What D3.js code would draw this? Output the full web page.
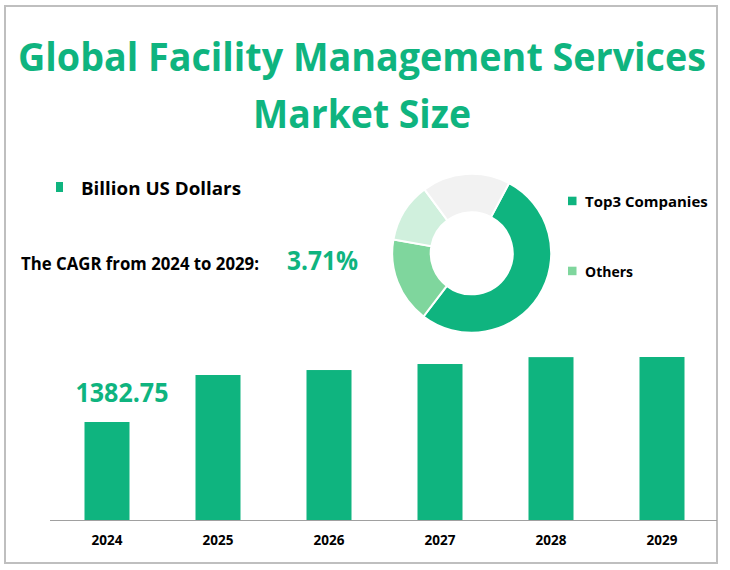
<!DOCTYPE html>
<html>
<head>
<meta charset="utf-8">
<script src="https://cdn.jsdelivr.net/npm/d3@7"></script>
<style>
  html, body { margin: 0; padding: 0; background: #ffffff; }
  svg { display: block; font-family: "Open Sans", "Noto Sans", sans-serif; }
</style>
</head>
<body>
<div id="chart"></div>
<script>
// ---- data ----
const years = ["2024", "2025", "2026", "2027", "2028", "2029"];
const marketSize = [1382.75, 2046, 2116, 2201, 2298, 2300];
const valueLabelYear = "2024";
const seriesName = "Billion US Dollars";
const cagrText = "The CAGR from 2024 to 2029:";
const cagrValue = "3.71%";
const shareCategories = ["Top3 Companies", "Others", "Segment 3", "Segment 4"];
const shareValues = [52.6, 17.4, 12.1, 17.9];
const legendCategories = ["Top3 Companies", "Others"];
const titleLines = ["Global Facility Management Services", "Market Size"];

// ---- styles ----
const green = "#0fb47f";
const shareColors = ["#0fb47f", "#7fd69d", "#d0f0dd", "#f2f2f2"];
const W = 730, H = 570;

const svg = d3.select("#chart").append("svg").attr("width", W).attr("height", H);
svg.append("rect").attr("width", W).attr("height", H).attr("fill", "#fff");

// border
svg.append("rect").attr("x", 5).attr("y", 6).attr("width", 712).attr("height", 557)
  .attr("fill", "none").attr("stroke", "#bfbfbf").attr("stroke-width", 2);

// title
const titleY = [71, 128];
const titleW = [688, 218];
titleLines.forEach((t, i) => {
  svg.append("text").attr("x", 362).attr("y", titleY[i]).attr("text-anchor", "middle")
    .attr("font-size", 39).attr("font-weight", 700).attr("fill", green)
    .attr("textLength", titleW[i]).attr("lengthAdjust", "spacingAndGlyphs").text(t);
});

// series legend
svg.append("rect").attr("x", 56).attr("y", 182).attr("width", 7).attr("height", 10).attr("fill", green);
svg.append("text").attr("x", 81).attr("y", 195).attr("font-size", 18).attr("font-weight", 700)
  .attr("fill", "#000").attr("textLength", 160).attr("lengthAdjust", "spacingAndGlyphs").text(seriesName);

// CAGR
svg.append("text").attr("x", 21).attr("y", 270).attr("font-size", 17).attr("font-weight", 700)
  .attr("fill", "#000").attr("textLength", 238).attr("lengthAdjust", "spacingAndGlyphs").text(cagrText);
svg.append("text").attr("x", 287).attr("y", 270).attr("font-size", 26).attr("font-weight", 700)
  .attr("fill", green).attr("textLength", 71).attr("lengthAdjust", "spacingAndGlyphs").text(cagrValue);

// donut
const cx = 471.7, cy = 253.3;
const pie = d3.pie().sort(null).value(d => d.v)
  .startAngle(28 * Math.PI / 180).endAngle(28 * Math.PI / 180 + 2 * Math.PI);
const arc = d3.arc().innerRadius(41).outerRadius(79.5);
const shareData = shareCategories.map((c, i) => ({ c, v: shareValues[i] }));
const g = svg.append("g").attr("transform", `translate(${cx},${cy})`);
g.selectAll("path").data(pie(shareData)).join("path")
  .attr("d", arc).attr("fill", (d, i) => shareColors[i])
  .attr("stroke", "#fff").attr("stroke-width", 2);

// donut legend
const legY = [206.7, 276.7];
const legW = [122.7, 48];
legendCategories.forEach((c, i) => {
  svg.append("rect").attr("x", 568).attr("y", legY[i] - 10).attr("width", 8.5).attr("height", 8.5)
    .attr("fill", shareColors[shareCategories.indexOf(c)]);
  svg.append("text").attr("x", 585).attr("y", legY[i]).attr("font-size", 15).attr("font-weight", 700)
    .attr("fill", "#000").attr("textLength", legW[i]).attr("lengthAdjust", "spacingAndGlyphs").text(c);
});

// bars
const x = d3.scaleBand().domain(years).range([51.5, 717.5]).paddingInner(0.5946).paddingOuter(0.2973);
const y = d3.scaleLinear().domain([0, 2300]).range([520, 357]);

svg.append("g").selectAll("rect").data(years).join("rect")
  .attr("x", d => x(d)).attr("width", x.bandwidth())
  .attr("y", (d, i) => y(marketSize[i])).attr("height", (d, i) => y(0) - y(marketSize[i]))
  .attr("fill", green);

// axis
const axis = svg.append("g").attr("transform", "translate(0,520)")
  .call(d3.axisBottom(x).tickSize(0).tickPadding(15));
axis.select(".domain").attr("stroke", "#a0a0a0").attr("stroke-width", 1.2)
  .attr("d", "M50,0.5H717");
axis.selectAll("text").attr("font-size", 13.5).attr("font-weight", 700).attr("fill", "#000")
  .attr("font-family", "\"Open Sans\", sans-serif");

// value label
const vi = years.indexOf(valueLabelYear);
svg.append("text").attr("x", x(valueLabelYear) - 9).attr("y", 401.7)
  .attr("font-size", 26).attr("font-weight", 700).attr("fill", green)
  .attr("textLength", 93).attr("lengthAdjust", "spacingAndGlyphs").text(marketSize[vi].toFixed(2));
</script>
</body>
</html>
